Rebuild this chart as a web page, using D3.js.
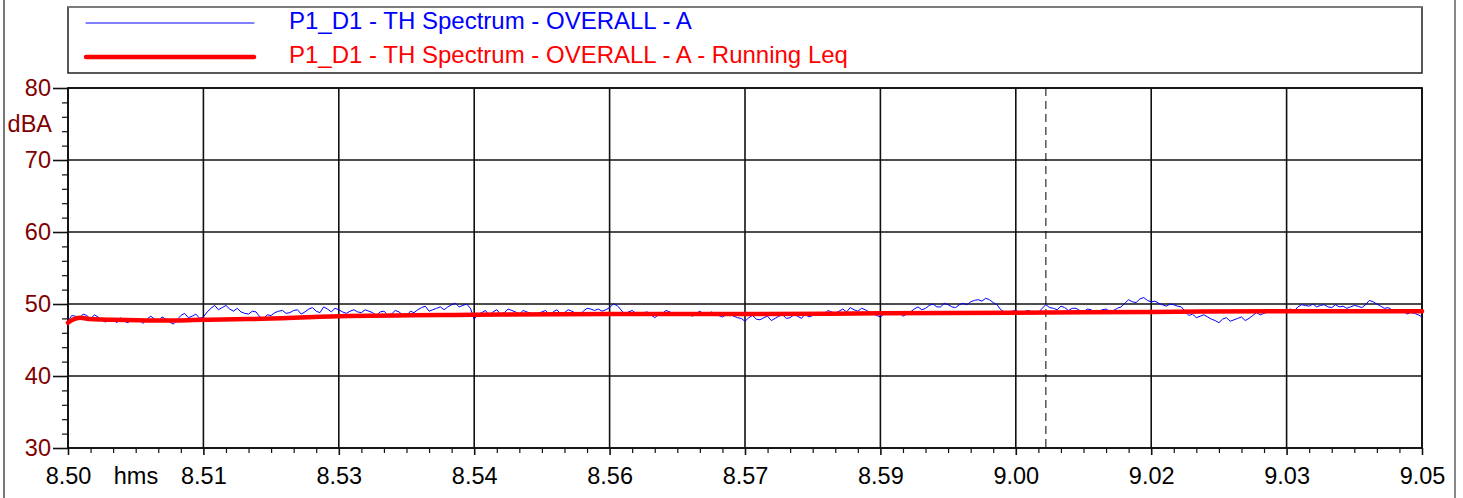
<!DOCTYPE html>
<html>
<head>
<meta charset="utf-8">
<script src="https://cdn.jsdelivr.net/npm/d3@7"></script>
<style>
  html, body { margin: 0; padding: 0; background: #fff; }
  svg { display: block; }
  text { font-family: "Liberation Sans", Arial, sans-serif; }
</style>
</head>
<body>
<svg id="chart" width="1463" height="498"></svg>
<script>
// ---------------- data ----------------
// time in seconds from 8:50:00 (x axis spans 15 minutes, labels in h.mm)
const tickTimes = [0, 90, 180, 270, 360, 450, 540, 630, 720, 810, 900];
const tickLabels = ["8.50", "8.51", "8.53", "8.54", "8.56", "8.57", "8.59", "9.00", "9.02", "9.03", "9.05"];
const xUnitLabel = "hms";
const yTicks = [30, 40, 50, 60, 70, 80];
const yUnitLabel = "dBA";
const seriesNames = ["P1_D1 - TH Spectrum - OVERALL - A", "P1_D1 - TH Spectrum - OVERALL - A - Running Leq"];

// Overall level, read every 5 s (0..900 s)
const levelStep = 5;
const levelValues = [
  47.6, 48.3, 48.6, 47.9, 48.2, 47.5, 47.8, 48.1, 47.4, 47.9,
  47.3, 48.3, 47.6, 47.9, 47.2, 48.4, 48.1, 48.6, 48.2, 49.4,
  49.2, 49.8, 49.0, 48.9, 48.6, 48.9, 48.0, 48.4, 49.0, 48.7,
  49.1, 48.6, 49.3, 49.0, 49.6, 48.9, 49.2, 48.7, 49.2, 48.8,
  49.0, 48.4, 49.0, 48.6, 48.9, 48.3, 48.8, 49.5, 49.0, 49.4,
  49.2, 49.9, 49.6, 50.0, 47.9, 48.8, 48.4, 49.2, 48.8, 49.1,
  48.6, 48.9, 48.4, 48.9, 48.5, 49.2, 48.8, 49.0, 48.5, 49.4,
  49.1, 49.0, 49.5, 49.8, 48.6, 49.1, 48.4, 48.9, 48.1, 48.7,
  48.9, 48.4, 48.8, 48.3, 49.0, 48.5, 48.7, 48.2, 48.6, 48.1,
  47.6, 48.4, 47.8, 48.3, 48.0, 48.5, 48.1, 48.3, 48.6, 48.4,
  48.7, 49.1, 48.7, 49.3, 49.5, 49.0, 49.2, 48.7, 48.2, 48.9,
  48.6, 48.3, 48.9, 49.6, 49.4, 50.0, 49.6, 49.9, 49.5, 50.1,
  50.3, 50.6, 50.8, 50.2, 49.2, 48.8, 49.1, 48.7, 49.0, 48.8,
  49.9, 49.4, 49.7, 49.1, 49.4, 48.9, 49.2, 49.0, 49.3, 49.1,
  49.6, 50.6, 50.2, 50.9, 50.3, 50.1, 49.7, 49.9, 49.6, 48.4,
  48.1, 48.5, 47.9, 47.4, 48.1, 47.8, 48.2, 48.0, 48.8, 48.7,
  49.0, 48.9, 49.1, 49.0, 49.9, 49.7, 49.6, 49.9, 49.5, 49.6,
  49.4, 49.8, 49.5, 50.5, 50.0, 49.4, 49.2, 49.0, 48.6, 48.7,
  48.2
];
// Overall level, read at the in-between instants (2.5, 7.5, ... 897.5 s)
const levelMidValues = [
  48.4, 48.0, 48.4, 48.5, 47.7, 48.0, 47.4, 47.6, 48.0, 47.8,
  47.9, 47.9, 48.2, 47.5, 47.8, 48.7, 48.3, 48.0, 48.9, 49.8,
  49.5, 49.3, 49.4, 48.7, 49.0, 48.2, 48.5, 48.8, 49.1, 48.8,
  49.2, 48.9, 49.5, 48.8, 49.3, 49.4, 48.9, 49.0, 48.9, 49.2,
  48.8, 48.9, 48.5, 49.1, 48.5, 49.0, 49.2, 49.7, 49.2, 49.6,
  49.6, 50.1, 49.8, 49.4, 48.6, 49.1, 48.9, 48.6, 49.3, 48.9,
  49.1, 48.7, 48.7, 49.1, 48.9, 48.6, 49.2, 48.7, 49.0, 49.3,
  49.3, 49.2, 50.0, 49.2, 48.9, 48.7, 48.8, 48.5, 48.5, 49.1,
  48.7, 48.6, 48.6, 48.7, 48.6, 48.9, 48.4, 48.5, 48.3, 48.0,
  48.1, 47.9, 48.1, 47.7, 48.3, 48.0, 48.5, 48.0, 48.2, 48.6,
  48.5, 48.9, 49.0, 48.9, 49.2, 49.4, 48.9, 48.4, 48.6, 48.7,
  48.8, 48.6, 49.3, 49.2, 49.8, 49.6, 50.1, 49.6, 49.9, 49.9,
  50.5, 50.4, 50.6, 49.9, 48.9, 49.0, 48.8, 49.1, 48.6, 49.4,
  49.5, 49.2, 49.5, 49.4, 49.1, 49.3, 48.8, 49.2, 49.0, 49.4,
  50.1, 50.3, 50.7, 50.5, 50.4, 49.9, 50.0, 49.7, 49.0, 48.6,
  48.3, 48.2, 47.7, 47.9, 47.6, 48.0, 47.7, 48.4, 48.5, 48.9,
  49.2, 48.8, 49.3, 49.6, 49.8, 50.0, 49.8, 49.6, 49.9, 49.7,
  49.6, 49.7, 49.9, 50.3, 49.7, 49.5, 48.9, 49.1, 48.8, 48.5
];

// Running Leq
const leqTimes  = [0, 3, 8, 15, 30, 60, 90, 120, 180, 270, 360, 450, 540, 630, 720, 810, 900];
const leqValues = [47.4, 47.8, 48.1, 47.9, 47.8, 47.7, 47.8, 47.9, 48.3, 48.5, 48.6, 48.6, 48.7, 48.8, 48.9, 49.0, 49.0];

const cursorTime = 650;

// ---------------- chart ----------------
const svg = d3.select("#chart");
const pLeft = 68, pRight = 1422, pTop = 88, pBottom = 448;
const x = d3.scaleLinear().domain([0, 900]).range([pLeft, pRight]);
const y = d3.scaleLinear().domain([30, 80]).range([pBottom, pTop]);
const axisFont = 23.5;
const legendFont = 24;
const ff = "'Liberation Sans', Arial, sans-serif";

// outer frame lines
svg.append("line").attr("x1", 4).attr("x2", 4).attr("y1", 0).attr("y2", 498).attr("stroke", "#777").attr("stroke-width", 2);
svg.append("line").attr("x1", 1455).attr("x2", 1455).attr("y1", 0).attr("y2", 498).attr("stroke", "#888").attr("stroke-width", 2);

// legend
const lg = svg.append("g");
lg.append("rect").attr("x", 68).attr("y", 7).attr("width", 1354).attr("height", 66)
  .attr("fill", "#fff").attr("stroke", "#222").attr("stroke-width", 1.5);
lg.append("line").attr("x1", 68).attr("x2", 1422).attr("y1", 7).attr("y2", 7).attr("stroke", "#888").attr("stroke-width", 1.5);
const legendColors = ["#0000ff", "#ff0000"];
const legendWidths = [1, 4.5];
const legendY = [23, 57];
seriesNames.forEach((n, i) => {
  lg.append("line").attr("x1", 86).attr("x2", 254).attr("y1", legendY[i]).attr("y2", legendY[i])
    .attr("stroke", legendColors[i]).attr("stroke-width", legendWidths[i]).attr("stroke-linecap", "round");
  lg.append("text").attr("x", 289).attr("y", legendY[i] + 5.5)
    .attr("fill", legendColors[i]).attr("font-size", legendFont).text(n);
});

// grid
const grid = svg.append("g");
grid.selectAll("line.v").data(tickTimes).join("line")
  .attr("x1", d => x(d)).attr("x2", d => x(d)).attr("y1", pTop).attr("y2", pBottom)
  .attr("stroke", "#111").attr("stroke-width", 1.6);
grid.selectAll("line.h").data(yTicks).join("line")
  .attr("x1", pLeft).attr("x2", pRight).attr("y1", d => y(d)).attr("y2", d => y(d))
  .attr("stroke", "#111").attr("stroke-width", 1.6);

// x axis ticks (major + minor every 15 s)
const minorX = d3.range(0, 901, 15).filter(t => t % 90 !== 0);
svg.append("g").attr("transform", `translate(0,${pBottom})`)
  .call(d3.axisBottom(x).tickValues(minorX).tickSize(5).tickFormat(""))
  .call(g => g.select(".domain").remove())
  .call(g => g.selectAll("line").attr("stroke", "#111").attr("stroke-width", 1.2));
svg.append("g").attr("transform", `translate(0,${pBottom})`)
  .call(d3.axisBottom(x).tickValues(tickTimes).tickSize(7).tickPadding(12)
    .tickFormat((d, i) => tickLabels[i]))
  .call(g => g.select(".domain").remove())
  .call(g => g.selectAll("line").attr("stroke", "#111").attr("stroke-width", 1.6))
  .call(g => g.selectAll("text").attr("font-size", axisFont).attr("fill", "#000").attr("font-family", ff));
svg.append("text").attr("x", 136).attr("y", pBottom + 19).attr("dy", "0.71em").attr("text-anchor", "middle")
  .attr("font-size", axisFont).attr("fill", "#000").text(xUnitLabel);

// y axis
const minorY = d3.range(30, 81, 2).filter(v => v % 10 !== 0);
svg.append("g").attr("transform", `translate(${pLeft},0)`)
  .call(d3.axisLeft(y).tickValues(minorY).tickSize(6).tickFormat(""))
  .call(g => g.select(".domain").remove())
  .call(g => g.selectAll("line").attr("stroke", "#111").attr("stroke-width", 1.2));
svg.append("g").attr("transform", `translate(${pLeft},0)`)
  .call(d3.axisLeft(y).tickValues(yTicks).tickSize(15).tickPadding(2).tickFormat(d3.format("d")))
  .call(g => g.select(".domain").remove())
  .call(g => g.selectAll("line").attr("stroke", "#111").attr("stroke-width", 1.6))
  .call(g => g.selectAll("text").attr("font-size", axisFont).attr("fill", "#800000").attr("font-family", ff));
svg.append("text").attr("x", 52).attr("y", 132).attr("text-anchor", "end")
  .attr("font-size", axisFont).attr("fill", "#800000").text(yUnitLabel);

// plot border
svg.append("rect").attr("x", pLeft).attr("y", pTop).attr("width", pRight - pLeft).attr("height", pBottom - pTop)
  .attr("fill", "none").attr("stroke", "#111").attr("stroke-width", 1.8);

// cursor
svg.append("line").attr("x1", x(cursorTime)).attr("x2", x(cursorTime)).attr("y1", pTop).attr("y2", pBottom)
  .attr("stroke", "#000").attr("stroke-width", 1).attr("stroke-dasharray", "8,5");

// series
const level = levelValues.map((v, i) => [i * levelStep, v])
  .concat(levelMidValues.map((v, i) => [i * levelStep + levelStep / 2, v]))
  .sort((a, b) => a[0] - b[0]);
svg.append("path").datum(level)
  .attr("d", d3.line().x(d => x(d[0])).y(d => y(d[1])))
  .attr("fill", "none").attr("stroke", "#0000ff").attr("stroke-width", 1);
const leq = leqTimes.map((t, i) => [t, leqValues[i]]);
svg.append("path").datum(leq)
  .attr("d", d3.line().x(d => x(d[0])).y(d => y(d[1])).curve(d3.curveMonotoneX))
  .attr("fill", "none").attr("stroke", "#ff0000").attr("stroke-width", 4.5).attr("stroke-linecap", "round");
</script>
</body>
</html>
